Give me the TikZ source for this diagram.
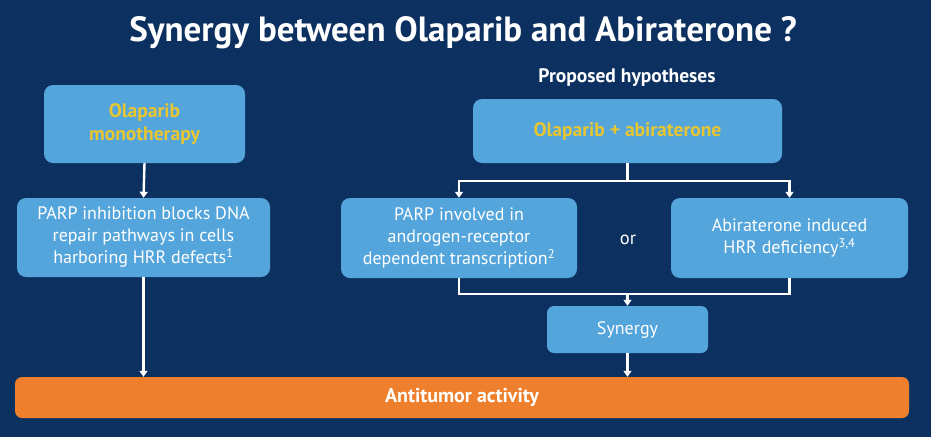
\documentclass[tikz,border=0pt]{standalone}
\usepackage{fontspec}
\setmainfont{PT Sans}
\usetikzlibrary{arrows.meta}
\definecolor{bgnavy}{RGB}{12,49,96}
\definecolor{boxblue}{RGB}{84,165,220}
\definecolor{gold}{RGB}{232,198,50}
\definecolor{orangebar}{RGB}{237,127,45}
\tikzset{
  box/.style={rectangle, rounded corners=9pt, fill=boxblue, inner sep=0pt, align=center, text=white, font=\fontsize{18}{22}\selectfont},
  goldtext/.style={text=gold, font=\bfseries\fontsize{19.5}{23}\selectfont},
  arr/.style={draw=white, line width=2.4pt, -{Triangle[width=8pt,length=6pt]}},
  ln/.style={draw=white, line width=2.4pt},
}
\begin{document}
\begin{tikzpicture}[x=1pt,y=-1pt]
\fill[bgnavy] (0,0) rectangle (931,437);
\useasboundingbox (0,0) rectangle (931,437);
\node[text=white, font=\bfseries\fontsize{35}{40}\selectfont] (title) at (463,33) {Synergy between Olaparib and Abiraterone ?};
\node[text=white, font=\bfseries\fontsize{19.5}{22}\selectfont] (hyp) at (627,78) {Proposed hypotheses};

\node[box, goldtext, minimum width=201pt, minimum height=78pt] (A) at (144.5,124) {Olaparib\\monotherapy};
\node[box, minimum width=253pt, minimum height=79pt] (B) at (143.5,237.5) {PARP inhibition blocks DNA\\repair pathways in cells\\harboring HRR defects\textsuperscript{1}};

\node[box, goldtext, minimum width=309pt, minimum height=64pt] (C) at (627.5,131) {Olaparib + abiraterone};
\node[box, minimum width=236pt, minimum height=80pt] (D) at (459,238) {PARP involved in\\androgen-receptor\\dependent transcription\textsuperscript{2}};
\node[box, minimum width=237pt, minimum height=80pt] (E) at (789.5,238) {Abiraterone induced\\HRR deficiency\textsuperscript{3,4}};
\node[text=white, font=\fontsize{18.5}{22}\selectfont] (or) at (628,240) {or};
\node[box, minimum width=161pt, minimum height=47pt, rounded corners=7pt] (S) at (627.5,329.5) {Synergy};
\node[rectangle, rounded corners=7pt, fill=orangebar, minimum width=894pt, minimum height=41pt, inner sep=0pt, text=white, font=\bfseries\fontsize{20}{24}\selectfont] (O) at (462,397.5) {Antitumor activity};

\coordinate (br) at (627.5,181);
\coordinate (mg) at (627.5,294);

\draw[arr] (A.south) -- (B.north);
\draw[arr] (B.south) -- (B.south |- O.north);
\draw[ln] (C.south) -- (br);
\draw[arr] (br) -| (D.north);
\draw[arr] (br) -| (E.north);
\draw[ln] (D.south) |- (mg) -| (E.south);
\draw[arr] (mg) -- (S.north);
\draw[arr] (S.south) -- (S.south |- O.north);
\end{tikzpicture}
\end{document}
